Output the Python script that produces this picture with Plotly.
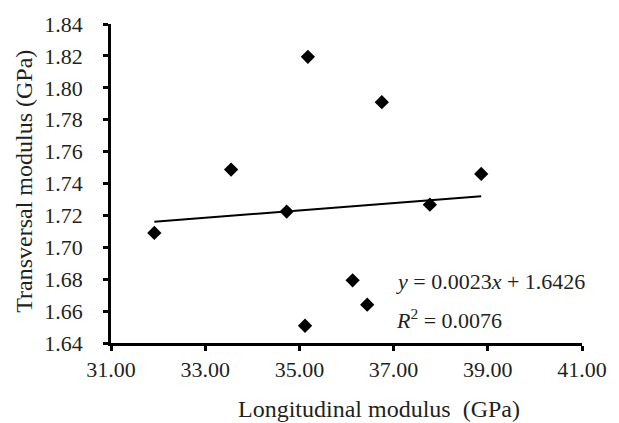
import plotly.graph_objects as go

# Data
longitudinal = [31.92, 33.55, 34.73, 35.18, 35.12, 36.13, 36.44, 36.75, 37.77, 38.86]
transversal = [1.709, 1.7487, 1.7224, 1.8194, 1.6508, 1.6793, 1.664, 1.791, 1.7267, 1.746]
x_ticks = [31, 33, 35, 37, 39, 41]
y_ticks = [1.64, 1.66, 1.68, 1.70, 1.72, 1.74, 1.76, 1.78, 1.80, 1.82, 1.84]
slope = 0.0023
intercept = 1.6426
eq_text = "<i>y</i> = 0.0023<i>x</i> + 1.6426"
r2_text = "<i>R</i><sup>2</sup> = 0.0076"

FONT = "Liberation Serif"
TXT = "#231f20"

L, R, T, B = 111, 33, 15, 80
W, H = 619, 423
PW, PH = W - L - R, H - T - B
AXIS_Y = H - B

xmin, xmax = min(longitudinal), max(longitudinal)
trend_x = [xmin, xmax]
trend_y = [slope * v + intercept for v in trend_x]

fig = go.Figure()
fig.add_trace(go.Scatter(x=trend_x, y=trend_y, mode="lines",
                         line=dict(color="black", width=2), showlegend=False,
                         hoverinfo="skip"))
fig.add_trace(go.Scatter(x=longitudinal, y=transversal, mode="markers",
                         marker=dict(symbol="diamond", size=11, color="black"),
                         showlegend=False))

fig.update_layout(
    width=W, height=H,
    margin=dict(l=L, r=R, t=T, b=B),
    plot_bgcolor="white", paper_bgcolor="white",
    font=dict(family=FONT, size=22, color=TXT),
    xaxis=dict(range=[31, 41], tickvals=x_ticks,
               ticktext=[f"{v:.2f}" for v in x_ticks],
               showgrid=False, zeroline=False, showline=True,
               linecolor="black", linewidth=2.5, ticks="outside",
               ticklen=5, tickwidth=2.5, tickcolor="black",
               ticklabelstandoff=0, tickfont=dict(size=22)),
    yaxis=dict(range=[1.64, 1.84], tickvals=y_ticks,
               ticktext=[f"{v:.2f}" for v in y_ticks],
               showgrid=False, zeroline=False, showline=True,
               linecolor="black", linewidth=2.5, ticks="outside",
               ticklen=5, tickwidth=2.5, tickcolor="black",
               ticklabelstandoff=16, tickfont=dict(size=22)),
    annotations=[
        dict(text="Longitudinal modulus  (GPa)", xref="paper", yref="paper",
             x=(381.5 - L) / PW, y=(AXIS_Y - 411) / PH,
             xanchor="center", yanchor="middle",
             showarrow=False, font=dict(size=24)),
        dict(text="Transversal modulus (GPa)", xref="paper", yref="paper",
             x=(23 - L) / PW, y=(AXIS_Y - 176.5) / PH,
             xanchor="center", yanchor="middle",
             textangle=-90, showarrow=False, font=dict(size=24)),
        dict(text=eq_text, xref="x", yref="y", x=37.0, y=1.6784,
             xanchor="left", yanchor="middle", showarrow=False,
             font=dict(size=22)),
        dict(text=r2_text, xref="x", yref="y", x=37.0, y=1.6551,
             xanchor="left", yanchor="middle", showarrow=False,
             font=dict(size=22)),
    ],
)

fig.write_html("out.html", config={"displayModeBar": False},
               post_script="document.body.style.margin='0';")
